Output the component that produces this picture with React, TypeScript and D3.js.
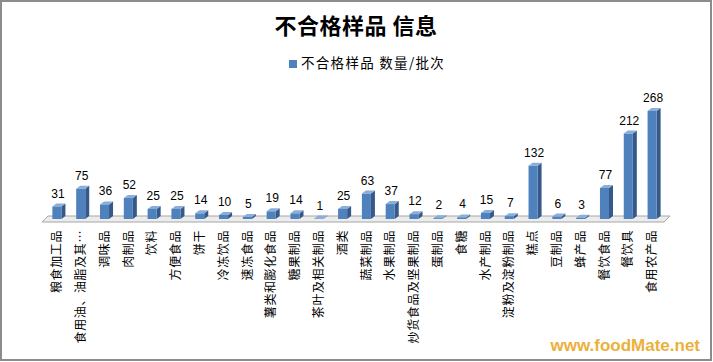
import React, { useRef, useEffect } from "react";
import * as d3 from "d3";

const categories = [
  "粮食加工品", "食用油、油脂及其…", "调味品", "肉制品", "饮料", "方便食品", "饼干",
  "冷冻饮品", "速冻食品", "薯类和膨化食品", "糖果制品", "茶叶及相关制品", "酒类",
  "蔬菜制品", "水果制品", "炒货食品及坚果制品", "蛋制品", "食糖", "水产制品",
  "淀粉及淀粉制品", "糕点", "豆制品", "蜂产品", "餐饮食品", "餐饮具", "食用农产品",
];
const counts = [
  31, 75, 36, 52, 25, 25, 14, 10, 5, 19, 14, 1, 25, 63, 37, 12, 2, 4, 15, 7, 132, 6, 3, 77, 212, 268,
];
const title = "不合格样品 信息";
const seriesName = "不合格样品 数量/批次";

const App = () => {
  const svgRef = useRef<SVGSVGElement>(null);

  useEffect(() => {
    if (!svgRef.current) return;
    const width = 713;
    const height = 362;
    const base = 219;
    const depthX = 4;
    const depthY = 3;
    const cjk = "'Noto Sans CJK SC', 'Liberation Sans', sans-serif";

    const svg = d3.select(svgRef.current).attr("width", width).attr("height", height);
    svg.selectAll("*").remove();

    // frame
    svg
      .append("rect")
      .attr("x", 1)
      .attr("y", 1)
      .attr("width", width - 3)
      .attr("height", height - 3)
      .attr("fill", "#fff")
      .attr("stroke", "#8c8c8c")
      .attr("stroke-width", 2);

    const x = d3.scaleBand<string>().domain(categories).range([45, 664]).paddingInner(0.62).paddingOuter(0.31);
    const y = d3.scaleLinear().domain([0, 268]).range([base, 111]);

    // floor
    svg
      .append("polygon")
      .attr("points", [[42, base + 3], [664, base + 3], [670, base - 3], [48, base - 3]].map((p) => p.join(",")).join(" "))
      .attr("fill", "#ececec")
      .attr("stroke", "#a6a6a6")
      .attr("stroke-width", 1);

    // bars
    const bars = svg
      .append("g")
      .selectAll("g")
      .data(categories.map((c, i) => ({ c, v: counts[i] })))
      .join("g");

    const bw = x.bandwidth();
    bars
      .append("polygon")
      .attr("points", (d) => {
        const x0 = x(d.c)! + bw;
        const yt = y(d.v);
        return `${x0},${base} ${x0 + depthX},${base - depthY} ${x0 + depthX},${yt - depthY} ${x0},${yt}`;
      })
      .attr("fill", "#36598a");
    bars
      .append("polygon")
      .attr("points", (d) => {
        const x0 = x(d.c)!;
        const yt = y(d.v);
        return `${x0},${yt} ${x0 + depthX},${yt - depthY} ${x0 + bw + depthX},${yt - depthY} ${x0 + bw},${yt}`;
      })
      .attr("fill", "#8aaedb");
    bars
      .append("rect")
      .attr("x", (d) => x(d.c)!)
      .attr("y", (d) => y(d.v))
      .attr("width", bw)
      .attr("height", (d) => base - y(d.v))
      .attr("fill", "#4f81bd");

    // value labels
    bars
      .append("text")
      .attr("x", (d) => x(d.c)! + bw / 2 + 1)
      .attr("y", (d) => y(d.v) - 9)
      .attr("text-anchor", "middle")
      .style("font-family", "'Liberation Sans', Arial, sans-serif")
      .style("font-size", "12px")
      .attr("fill", "#000")
      .text((d) => d.v);

    // category labels, rotated
    bars
      .append("text")
      .attr("transform", (d) => `translate(${x(d.c)! + bw / 2},230) rotate(-90)`)
      .attr("text-anchor", "end")
      .attr("dy", "0.35em")
      .style("font-family", cjk)
      .style("font-size", "12px")
      .style("letter-spacing", "0.6px")
      .attr("fill", "#000")
      .text((d) => d.c);

    // title
    svg
      .append("text")
      .attr("x", 356)
      .attr("y", 34)
      .attr("text-anchor", "middle")
      .style("font-family", cjk)
      .style("font-size", "22px")
      .style("font-weight", "bold")
      .style("letter-spacing", "0.5px")
      .attr("fill", "#000")
      .text(title);

    // legend
    svg.append("rect").attr("x", 289).attr("y", 60).attr("width", 8).attr("height", 8).attr("fill", "#4f81bd");
    svg
      .append("text")
      .attr("x", 301)
      .attr("y", 68)
      .style("font-family", cjk)
      .style("font-size", "13.5px")
      .style("letter-spacing", "1.3px")
      .attr("fill", "#000")
      .text(seriesName);

    // watermark
    svg
      .append("text")
      .attr("x", 700)
      .attr("y", 351)
      .attr("text-anchor", "end")
      .style("font-family", "'Liberation Sans', Arial, sans-serif")
      .style("font-size", "17px")
      .style("font-weight", "bold")
      .attr("fill", "#e8a317")
      .attr("opacity", 0.85)
      .text("www.foodMate.net");
  }, []);

  return <svg ref={svgRef} style={{ position: "absolute", left: 0, top: 0 }}></svg>;
};

export default App;
